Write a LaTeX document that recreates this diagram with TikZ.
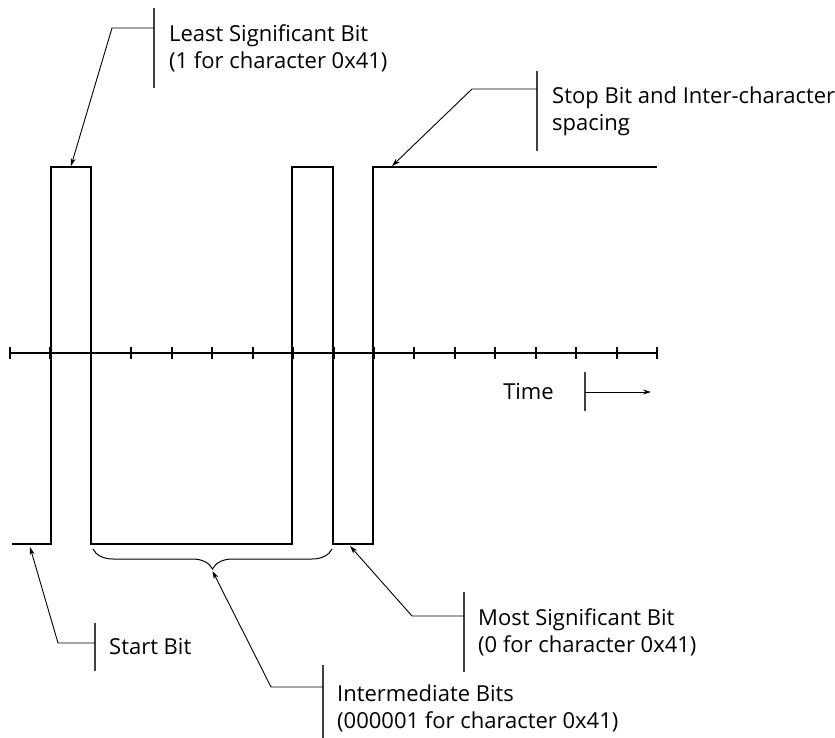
\documentclass[tikz,border=0pt]{standalone}
\usepackage{fontspec}
\setmainfont{Open Sans}
\usetikzlibrary{arrows.meta, positioning, decorations.pathreplacing}

\newcommand{\lblfont}{\fontsize{22}{27}\selectfont}

\begin{document}
\begin{tikzpicture}[x=1pt, y=-1pt,
    sig/.style={line width=1.3pt},
    lead/.style={line width=0.9pt, -{Stealth[length=8pt,width=5pt]}},
    bar/.style={line width=1.2pt, draw=black!75},
    lbl/.style={anchor=west, align=left, inner sep=0pt, font=\lblfont}]
    \useasboundingbox (0,0) rectangle (835,738);

    % Time axis, 16 bit times
    \draw[line width=2.5pt] (10,353) -- (657,353);
    \foreach \i in {0,...,16}
        \draw[line width=2pt] ({10+40.44*\i},347) -- ({10+40.44*\i},359);

    % Waveform for character 0x41
    \draw[sig] (12,544) -- (51,544) -- (51,167) -- (91,167) -- (91,544) -- (292,544) -- (292,167) -- (333,167) -- (333,544) -- (373,544) -- (373,167) -- (657,167);
    \coordinate (startpt) at (30,547);
    \coordinate (lsbpt) at (71,166);
    \coordinate (msbpt) at (350,546);
    \coordinate (stoppt) at (392,166);

    % Brace over the intermediate bits
    \draw[decorate, decoration={brace, amplitude=20pt}, line width=1pt] (332,549) -- (93,549);
    \coordinate (bracetip) at (212.5,571);

    % Labels
    \node[lbl] (lsb) at (169,48) {Least Significant Bit\\(1 for character 0x41)};
    \node[lbl] (stop) at (552,111) {Stop Bit and Inter-character\\spacing};
    \node[lbl] (start) at (109,647) {Start Bit};
    \node[lbl] (msb) at (478,632) {Most Significant Bit\\(0 for character 0x41)};
    \node[lbl] (mid) at (337,708) {Intermediate Bits\\(000001 for character 0x41)};

    % Bars beside the labels
    \draw[bar] ([xshift=-15pt]lsb.west) ++(0,-40) -- ++(0,80);
    \draw[bar] ([xshift=-15pt]stop.west) ++(0,-40) -- ++(0,80);
    \draw[bar] ([xshift=-14pt]start.west) ++(0,-24) -- ++(0,48);
    \draw[bar] ([xshift=-14pt]msb.west) ++(0,-40) -- ++(0,80);
    \draw[bar] ([xshift=-14pt]mid.west) ++(0,-43) -- ++(0,73);

    % Leaders
    \draw[lead] ([xshift=-15pt,yshift=20pt]lsb.west) -- ++(-42,0) -- (lsbpt);
    \draw[lead] ([xshift=-15pt,yshift=22pt]stop.west) -- ++(-65,0) -- (stoppt);
    \draw[lead] ([xshift=-14pt,yshift=4pt]start.west) -- ++(-37,0) -- (startpt);
    \draw[lead] ([xshift=-14pt,yshift=16pt]msb.west) -- ++(-52,0) -- (msbpt);
    \draw[lead] ([xshift=-14pt,yshift=21pt]mid.west) -- ++(-52,0) -- (bracetip);

    % Time direction
    \coordinate (tbar) at (585,392);
    \coordinate (tend) at (651,392);
    \node[font=\lblfont, inner sep=0pt, left=31pt of tbar] (time) {Time};
    \draw[bar] (tbar) ++(0,-20) -- ++(0,39);
    \draw[lead] (tbar) -- (tend);
\end{tikzpicture}
\end{document}
